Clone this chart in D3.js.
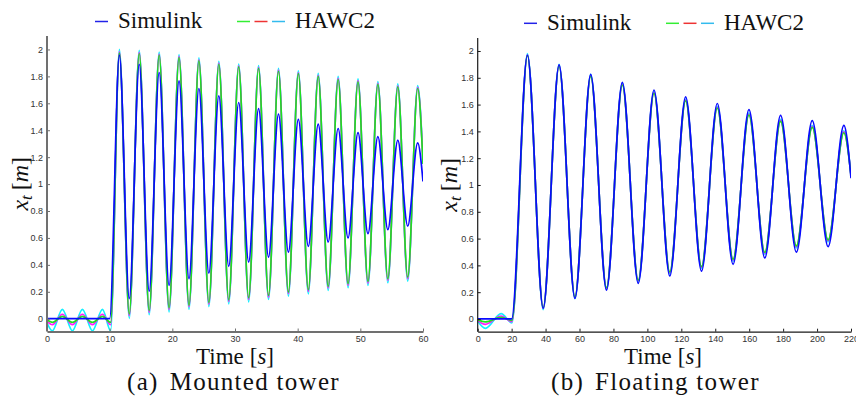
<!DOCTYPE html>
<html lang="en">
<head>
<meta charset="UTF-8">
<title>Tower top displacement: Simulink vs HAWC2</title>
<style>
  body { margin: 0; background: #fff; }
  svg { display: block; }
  .tick text { font-family: "Liberation Sans", Arial, sans-serif; font-size: 9px; fill: #333; }
  text.serif { font-family: "Liberation Serif", "DejaVu Serif", "Noto Serif", Tinos, FreeSerif, Times, serif; }
</style>
<script src="https://cdn.jsdelivr.net/npm/d3@7"></script>
</head>
<body>
<script>
// ---- data (extrema of each response, seconds / metres) ----

// (a) mounted tower
const xTicksA = [0, 10, 20, 30, 40, 50, 60];
const yTicks = [0, 0.2, 0.4, 0.6, 0.8, 1, 1.2, 1.4, 1.6, 1.8, 2];

// before the step (HAWC2 only, Simulink sits at 0)
const tPreA = [0, 0.85, 2.45, 4.05, 5.65, 7.25, 8.85, 10.15];
const preGreenA = [-0.01, -0.027, 0.017, -0.027, 0.017, -0.027, 0.017, -0.027];
const preMagentaA = [-0.018, -0.045, 0.033, -0.045, 0.033, -0.045, 0.033, -0.045];
const preCyanA = [-0.03, -0.09, 0.07, -0.09, 0.07, -0.09, 0.07, -0.09];
const simPreA = [[0, 0], [10, 0]];

// after the step: peak, trough, peak ... end value
const tA = [11.55, 13.13, 14.72, 16.31, 17.9, 19.48, 21.07, 22.66, 24.24, 25.83, 27.42, 29.0,
  30.59, 32.18, 33.76, 35.35, 36.94, 38.52, 40.11, 41.7, 43.28, 44.87, 46.46, 48.04,
  49.63, 51.22, 52.8, 54.39, 55.98, 57.56, 59.15, 60];
const simA = [1.958, 0.149, 1.89, 0.205, 1.829, 0.248, 1.767, 0.297, 1.71, 0.339, 1.655, 0.389,
  1.606, 0.421, 1.561, 0.458, 1.519, 0.495, 1.48, 0.538, 1.445, 0.57, 1.413, 0.6,
  1.383, 0.632, 1.353, 0.662, 1.326, 0.688, 1.306, 1.02];
const greenA = [1.975, 0.035, 1.97, 0.06, 1.958, 0.08, 1.94, 0.1, 1.915, 0.12, 1.89, 0.14,
  1.87, 0.155, 1.859, 0.173, 1.838, 0.198, 1.82, 0.215, 1.8, 0.24, 1.777, 0.26,
  1.76, 0.277, 1.74, 0.297, 1.722, 0.309, 1.71, 1.15];
const magentaA = [1.985, 0.022, 1.978, 0.047, 1.966, 0.068, 1.948, 0.088, 1.923, 0.108, 1.898, 0.128,
  1.878, 0.143, 1.867, 0.161, 1.846, 0.186, 1.828, 0.203, 1.808, 0.228, 1.785, 0.248,
  1.768, 0.265, 1.748, 0.285, 1.73, 0.297, 1.718, 1.16];
const cyanA = [2.0, 0.003, 1.993, 0.03, 1.98, 0.05, 1.962, 0.07, 1.937, 0.09, 1.912, 0.11,
  1.892, 0.125, 1.88, 0.143, 1.86, 0.168, 1.842, 0.185, 1.822, 0.21, 1.8, 0.23,
  1.782, 0.247, 1.762, 0.267, 1.744, 0.279, 1.732, 1.17];

// (b) floating tower
const xTicksB = [0, 20, 40, 60, 80, 100, 120, 140, 160, 180, 200, 220];

const tPreB = [0, 4.5, 13.8, 20.2];
const preGreenB = [-0.005, -0.022, 0.012, -0.01];
const preMagentaB = [-0.01, -0.04, 0.022, -0.02];
const preCyanB = [-0.015, -0.07, 0.04, -0.03];
const simPreB = [[0, 0], [20, 0]];

const tB = [29.3, 38.6, 47.95, 57.3, 66.6, 75.9, 85.25, 94.6, 103.9, 113.2, 122.55,
  131.9, 141.2, 150.5, 159.85, 169.2, 178.5, 187.8, 197.15, 206.5, 215.8, 220];
const simB = [1.97, 0.08, 1.896, 0.154, 1.826, 0.216, 1.766, 0.266, 1.709, 0.321, 1.657,
  0.357, 1.608, 0.408, 1.562, 0.455, 1.52, 0.499, 1.48, 0.54, 1.445, 1.05];
const greenB = [1.965, 0.085, 1.886, 0.166, 1.811, 0.234, 1.746, 0.29, 1.684, 0.351, 1.627,
  0.391, 1.573, 0.446, 1.522, 0.497, 1.475, 0.545, 1.43, 0.59, 1.39, 1.07];
const magentaB = [1.972, 0.079, 1.892, 0.16, 1.817, 0.228, 1.752, 0.284, 1.69, 0.345, 1.633,
  0.385, 1.579, 0.44, 1.528, 0.491, 1.481, 0.539, 1.436, 0.584, 1.396, 1.075];
const cyanB = [1.98, 0.07, 1.9, 0.152, 1.825, 0.22, 1.76, 0.276, 1.698, 0.337, 1.641,
  0.377, 1.587, 0.432, 1.536, 0.483, 1.489, 0.531, 1.444, 0.576, 1.404, 1.08];

const curveColors = { sim: "#0a0aff", green: "#1ee01e", magenta: "#ff1aff", cyan: "#12f0ff" };
const legendColors = { sim: "#2222e8", hawc: ["#33ee33", "#ee3333", "#33bbee"] };

// ---- helpers ----
const pts = (ts, vs) => ts.map((t, i) => [t, vs[i]]);

const W = 856, H = 396;
const svg = d3.select("body").append("svg")
  .attr("width", W).attr("height", H);

const panels = [
  {
    id: "a", xDomain: [0, 60], xRange: [47, 423], yDomain: [-0.095, 2.1], yRange: [331.5, 36],
    xTicks: xTicksA, axisColor: "#707070", axisWidth: 2,
    legendX: 95, legendY: 21.5, yLabelX: 28, timeX: 196, captionX: 127,
    label: "(a)", caption: "Mounted tower",
    series: [
      { c: curveColors.cyan, d: pts(tPreA, preCyanA).concat(pts(tA, cyanA)) },
      { c: curveColors.magenta, d: pts(tPreA, preMagentaA).concat(pts(tA, magentaA)) },
      { c: curveColors.green, d: pts(tPreA, preGreenA).concat(pts(tA, greenA)) },
      { c: curveColors.sim, d: simPreA.concat(pts(tA, simA)) }
    ]
  },
  {
    id: "b", xDomain: [0, 220], xRange: [477.7, 851], yDomain: [-0.095, 2.097], yRange: [331.7, 38],
    xTicks: xTicksB, axisColor: "#1a1a1a", axisWidth: 1.2,
    legendX: 524, legendY: 23.3, yLabelX: 457, timeX: 624, captionX: 551,
    label: "(b)", caption: "Floating tower",
    series: [
      { c: curveColors.cyan, d: pts(tPreB, preCyanB).concat(pts(tB, cyanB)) },
      { c: curveColors.magenta, d: pts(tPreB, preMagentaB).concat(pts(tB, magentaB)) },
      { c: curveColors.green, d: pts(tPreB, preGreenB).concat(pts(tB, greenB)) },
      { c: curveColors.sim, d: simPreB.concat(pts(tB, simB)) }
    ]
  }
];

function serifText(sel, size) {
  return sel.append("text")
    .attr("class", "serif")
    .style("font-size", size + "px")
    .style("fill", "#111");
}

panels.forEach(p => {
  const x = d3.scaleLinear().domain(p.xDomain).range(p.xRange);
  const y = d3.scaleLinear().domain(p.yDomain).range(p.yRange);
  const g = svg.append("g");

  g.append("clipPath").attr("id", "clip-" + p.id)
    .append("rect")
    .attr("x", p.xRange[0]).attr("y", p.yRange[1])
    .attr("width", p.xRange[1] - p.xRange[0]).attr("height", p.yRange[0] - p.yRange[1]);

  const line = d3.line()
    .x(d => x(d[0])).y(d => y(d[1]))
    .curve(d3.curveMonotoneX);

  g.append("g").attr("clip-path", "url(#clip-" + p.id + ")")
    .selectAll("path").data(p.series).enter()
    .append("path")
    .attr("d", s => line(s.d))
    .attr("fill", "none")
    .attr("stroke", s => s.c)
    .attr("stroke-width", 1.7)
    .attr("stroke-linejoin", "round");

  // axes, ticks pointing inward
  const xAxis = d3.axisBottom(x).tickValues(p.xTicks).tickFormat(d3.format("d"))
    .tickSizeInner(-3).tickSizeOuter(0).tickPadding(4);
  const yAxis = d3.axisLeft(y).tickValues(yTicks).tickFormat(d => d3.format("")(d))
    .tickSizeInner(-3).tickSizeOuter(0).tickPadding(4);

  const gx = g.append("g").attr("transform", "translate(0," + p.yRange[0] + ")").call(xAxis);
  const gy = g.append("g").attr("transform", "translate(" + p.xRange[0] + ",0)").call(yAxis);
  [gx, gy].forEach(a => {
    a.attr("font-family", null).attr("font-size", null);
    a.select(".domain").attr("stroke", p.axisColor).attr("stroke-width", p.axisWidth);
    a.selectAll(".tick line").attr("stroke", p.axisColor).attr("stroke-width", 1);
  });
  gy.select(".domain").attr("d", "M0," + p.yRange[0] + "V" + p.yRange[1]);

  // y label  x_t [m]
  const yl = serifText(g, 24)
    .attr("transform", "translate(" + p.yLabelX + "," + (p.yRange[0] + p.yRange[1]) / 2 + ") rotate(-90)")
    .attr("text-anchor", "middle");
  yl.append("tspan").style("font-style", "italic").text("x");
  yl.append("tspan").style("font-style", "italic").style("font-size", "17px").attr("dy", 4).text("t");
  yl.append("tspan").attr("dy", -4).attr("dx", 5).text("[");
  yl.append("tspan").style("font-style", "italic").text("m");
  yl.append("tspan").text("]");

  // x label  Time [s]
  const xl = serifText(g, 23).attr("x", p.timeX).attr("y", 364);
  xl.append("tspan").text("Time");
  xl.append("tspan").attr("dx", 6).text("[");
  xl.append("tspan").style("font-style", "italic").text("s");
  xl.append("tspan").text("]");

  // caption
  const cap = serifText(g, 25).attr("x", p.captionX).attr("y", 390)
    .style("letter-spacing", "1.3px");
  cap.append("tspan").text(p.label);
  cap.append("tspan").attr("dx", 11).text(p.caption);

  // legend
  const lg = g.append("g").attr("transform", "translate(" + p.legendX + "," + p.legendY + ")");
  lg.append("line").attr("x1", 0).attr("x2", 13).attr("stroke", legendColors.sim).attr("stroke-width", 1.5);
  serifText(lg, 23).attr("x", 23).attr("y", 6.5).text("Simulink");
  lg.selectAll("line.h").data(legendColors.hawc).enter()
    .append("line").attr("class", "h")
    .attr("x1", (d, i) => 142 + i * 17.5).attr("x2", (d, i) => 155 + i * 17.5)
    .attr("stroke", d => d).attr("stroke-width", 1.5);
  serifText(lg, 23).attr("x", 200).attr("y", 6.5).text("HAWC2");
});
</script>
</body>
</html>
